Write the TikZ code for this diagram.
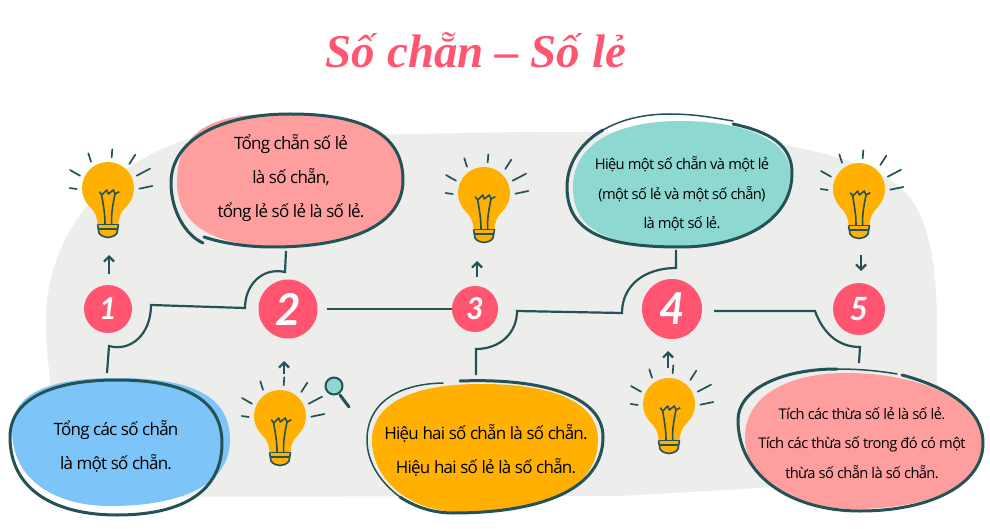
\documentclass[tikz,border=0pt]{standalone}
\usepackage{fontspec}
\setmainfont[LetterSpace=-4.5]{Open Sans}
\newfontfamily\titlefont{Liberation Serif}
\newfontfamily\numfont{Lato}
\usetikzlibrary{arrows.meta}
\definecolor{ink}{HTML}{235257}
\definecolor{backgray}{HTML}{EDEDEB}
\definecolor{amber}{HTML}{FFB000}
\definecolor{rosy}{HTML}{FF9E9E}
\definecolor{skyblue}{HTML}{7DC4F8}
\definecolor{mint}{HTML}{8DD8D0}
\definecolor{redpink}{HTML}{FF5570}
\tikzset{
    thickline/.style={draw=ink,line width=3pt,line cap=round,line join=round},
    thinline/.style={draw=ink,line width=1.5pt,line cap=round},
    linkline/.style={draw=ink,line width=2.2pt,line join=miter},
    arrowline/.style={draw=ink,line width=2.2pt,-{Straight Barb[length=5pt,width=10pt]}},
    raydash/.style={draw=ink,line width=1.7pt,line cap=round},
    numdot/.style={shape=circle,fill=redpink,text=white,inner sep=0pt,font=\numfont\bfseries\itshape},
    bigsay/.style={align=center,text=black,font=\fontsize{17}{34}\selectfont},
    smallsay/.style={align=center,text=black,font=\fontsize{14.7}{29.5}\selectfont},
    bulb/.pic={
        \fill[amber] (0,0) circle (26);
        \fill[amber] (-18.8,18) .. controls (-13,24) and (-11,28) .. (-10.5,36) -- (10.5,36) .. controls (11,28) and (13,24) .. (18.8,18) -- cycle;
        \fill[amber] (-10,36) -- (10,36) -- (9,45) .. controls (5,51) and (-5,51) .. (-9,45) -- cycle;
        \draw[raydash] (-19.7,-34.7) -- (-17,-26.3);
        \draw[raydash] (4.3,-38.7) -- (3.7,-30.7);
        \draw[raydash] (27.3,-33.3) -- (21.3,-24);
        \draw[raydash] (42,-19.3) -- (28.7,-12.3);
        \draw[raydash] (44.3,-2) -- (31.3,0.7);
        \draw[raydash] (-38,-18) -- (-28,-12.3);
        \draw[raydash] (-38.3,0) -- (-31.3,1);
        \draw[ink,line width=1.6pt,line join=round] (-3,36) .. controls (-3,24) and (-5,16) .. (-6.3,7) -- (-8.7,3.7) (-6.3,7) -- (-1.3,2) -- (0.3,6) -- (5.3,2) -- (7,6) -- (11.3,3.7) (7,6) .. controls (5,16) and (3,26) .. (3.7,36);
        \draw[ink,line width=1.8pt] (-10.5,36.5) -- (10.5,36.5);
        \draw[ink,line width=1.3pt] (-9.5,41) -- (9.5,41);
        \draw[ink,line width=1.6pt] (-10.5,36.5) -- (-9,45) .. controls (-5,51) and (5,51) .. (9,45) -- (10.5,36.5);
    }
}
\begin{document}
\begin{tikzpicture}[x=1pt,y=-1pt]
    \useasboundingbox (0,0) rectangle (990,529);
    % gray background
    \fill[backgray] (192,138) .. controls (100,165) and (46,240) .. (46,320) .. controls (46,345) and (48,365) .. (52,392) -- (60,497) -- (620,496) -- (760,488) -- (937,470) -- (937,330) .. controls (937,250) and (925,205) .. (895,183) .. controls (860,160) and (820,152) .. (770,142) .. controls (700,132) and (600,132) .. (520,132) -- cycle;

    \node[text=redpink,font=\titlefont\bfseries\itshape\fontsize{47}{47}\selectfont] (titlenode) at (476,50) {Số chẵn – Số lẻ};

    % bubbles
    \fill[skyblue] (117,378) .. controls (190,378) and (230,395) .. (230,440) .. controls (230,480) and (190,506) .. (110,506) .. controls (55,506) and (12,480) .. (12,430) .. controls (12,395) and (45,378) .. (117,378);
    \draw[thickline] (117,380) .. controls (185,380) and (222,400) .. (222,443) .. controls (222,490) and (185,515) .. (117,515) .. controls (55,515) and (10,490) .. (10,437) .. controls (10,400) and (50,380) .. (117,380) -- cycle;

    \fill[rosy] (285,115) .. controls (365,115) and (402,135) .. (402,180) .. controls (402,228) and (340,246) .. (273,246) .. controls (215,246) and (177,225) .. (177,183) .. controls (177,140) and (200,110) .. (285,115);
    \draw[thickline] (204,237) .. controls (225,244) and (250,247) .. (273,247) .. controls (340,247) and (403,230) .. (403,180) .. controls (403,135) and (365,114) .. (290,114) .. controls (220,114) and (171,140) .. (171,183) .. controls (171,210) and (185,235) .. (203,243);

    \fill[amber] (480,384) .. controls (560,384) and (598,405) .. (598,440) .. controls (598,490) and (540,513) .. (460,512) .. controls (410,512) and (372,480) .. (372,440) .. controls (372,405) and (410,384) .. (480,384);
    \draw[thickline] (460,381) .. controls (540,378) and (603,395) .. (603,437) .. controls (603,490) and (540,513) .. (453,513) .. controls (430,513) and (412,505) .. (400,497);
    \draw[thinline] (400,497) .. controls (380,482) and (367,462) .. (367,440) .. controls (367,405) and (395,384) .. (443,383);

    \fill[mint] (680,121) .. controls (745,121) and (790,140) .. (790,173) .. controls (790,222) and (740,246) .. (680,246) .. controls (610,246) and (573,232) .. (573,187) .. controls (573,145) and (615,121) .. (680,121);
    \draw[thickline] (733,124) .. controls (770,132) and (792,145) .. (792,173) .. controls (792,222) and (740,247) .. (680,247) .. controls (610,247) and (567,235) .. (567,187) .. controls (567,160) and (585,140) .. (603,130);
    \draw[thinline] (603,130) .. controls (622,119) and (645,114) .. (670,114) .. controls (695,114) and (715,118) .. (733,121);

    \fill[rosy] (845,373) .. controls (920,373) and (983,400) .. (983,443) .. controls (983,485) and (930,509) .. (855,509) .. controls (790,509) and (745,480) .. (745,437) .. controls (745,395) and (790,373) .. (845,373);
    \draw[thickline] (902,375) .. controls (950,388) and (983,410) .. (983,443) .. controls (983,485) and (930,511) .. (860,511) .. controls (790,511) and (738,475) .. (738,420) .. controls (738,390) and (780,369) .. (837,369);
    \draw[thinline] (837,369) .. controls (860,369) and (880,371) .. (897,374);

    \node[bigsay] (sumeven) at (116,446) {Tổng các số chẵn\\là một số chẵn.};
    \node[bigsay] (sumodd) at (291,178) {Tổng chẵn số lẻ\\là số chẵn,\\tổng lẻ số lẻ là số lẻ.};
    \node[bigsay] (diffsame) at (486,450) {Hiệu hai số chẵn là số chẵn.\\Hiệu hai số lẻ là số chẵn.};
    \node[smallsay] (diffmixed) at (682,194) {Hiệu một số chẵn và một lẻ\\(một số lẻ và một số chẵn)\\là một số lẻ.};
    \node[smallsay] (product) at (862,443) {Tích các thừa số lẻ là số lẻ.\\Tích các thừa số trong đó có một\\thừa số chẵn là số chẵn.};

    % numbers
    \foreach \a/\bx/\bsize/\bfont in {1/108/48/30, 2/288/59/44, 3/475/46/30, 4/672/60/44, 5/859/52/32}
        {\node[numdot,minimum size=\bsize pt,font=\numfont\bfseries\itshape\fontsize{\bfont}{\bfont}\selectfont] (n\a) at (\bx,309) {\a};}

    % bulbs
    \foreach \bx/\by in {108/188, 280/416, 484/193, 669/404, 859/189}
        {\pic at (\bx,\by) {bulb};}

    % magnifier
    \coordinate (lensend) at (349,407);
    \node[shape=circle,draw=ink,fill=mint,line width=2pt,minimum size=17pt,inner sep=0pt] (lens) at (334,386) {};
    \draw[ink,line width=3pt,line cap=round] (lens) ++(6,9) -- (lensend);

    % little arrows
    \foreach \a/\tx/\ty/\hx/\hy in {1/109/274/109/255, 2/284/374/284/361, 3/477/277/477/261, 4/668/368/668/351, 5/861/255/861/271}
        {\coordinate (tail\a) at (\tx,\ty);
        \coordinate (head\a) at (\hx,\hy);
        \draw[arrowline] (tail\a) -- (head\a);}

    % links
    \coordinate (bluetop) at (107,373);
    \coordinate (pinkfoot) at (286,251);
    \draw[linkline] (bluetop) -- (109,346) .. controls (130,352) and (151,335) .. (151,305) -- (245,308) .. controls (245,285) and (262,267) .. (285,272) -- (pinkfoot);
    \draw[linkline] (n2) ++(39,0) -- (n3) ++(-44,1);
    \coordinate (ambertop) at (476,375);
    \coordinate (mintfoot) at (676,250);
    \draw[linkline] (ambertop) -- (476,349) .. controls (500,349) and (517,333) .. (517,311) -- (622,313) .. controls (622,285) and (645,268) .. (676,268) -- (mintfoot);
    \coordinate (pinktop) at (859,363);
    \draw[linkline] (n4) ++(42,2) -- (815,311) .. controls (823,333) and (838,347) .. (860,347) -- (pinktop);
\end{tikzpicture}
\end{document}
